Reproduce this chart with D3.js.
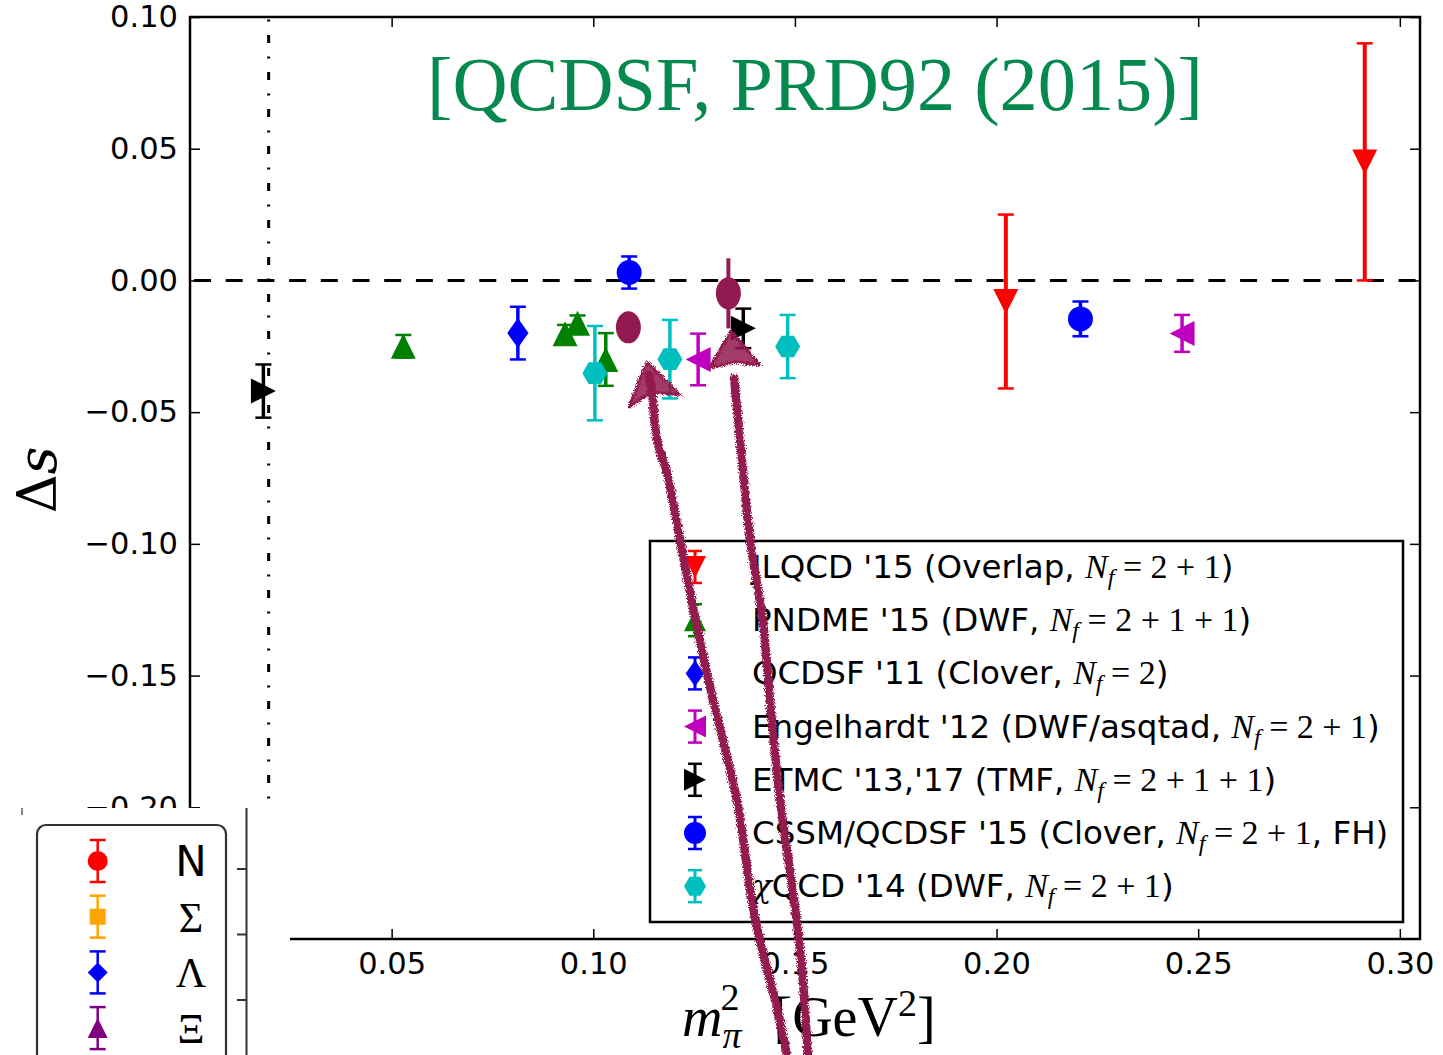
<!DOCTYPE html>
<html>
<head>
<meta charset="utf-8">
<script src="https://d3js.org/d3.v7.min.js"></script>
<style>
  body { margin: 0; background: #fff; }
  svg { display: block; }
</style>
</head>
<body>
<div id="chart"></div>
<script>
// ---- data ----
var xTicks = [0.05, 0.10, 0.15, 0.20, 0.25, 0.30];
var yTicks = [-0.20, -0.15, -0.10, -0.05, 0.00, 0.05, 0.10];

var jlqcd = [{x: 0.2023, y: -0.008, e: 0.033}, {x: 0.2913, y: 0.045, e: 0.045}];
var pndme = [{x: 0.0529, y: -0.025, e: 0.0043}, {x: 0.0930, y: -0.0202, e: 0.0033},
             {x: 0.0961, y: -0.0163, e: 0.003}, {x: 0.1031, y: -0.030, e: 0.010}];
var qcdsf11 = [{x: 0.0813, y: -0.020, e: 0.010}];
var engelhardt = [{x: 0.1260, y: -0.030, e: 0.0098}, {x: 0.2460, y: -0.0201, e: 0.007}];
var etmc = [{x: 0.0182, y: -0.042, e: 0.0101}, {x: 0.1372, y: -0.0182, e: 0.0075}];
var cssm = [{x: 0.1089, y: 0.0030, e: 0.0061}, {x: 0.2208, y: -0.0146, e: 0.0066}];
var chiqcd = [{x: 0.1004, y: -0.0352, e: 0.0179}, {x: 0.1190, y: -0.0299, e: 0.0149},
              {x: 0.1482, y: -0.0251, e: 0.012}];
var qcdsf15 = [{x: 0.1087, y: -0.0178, e: 0}, {x: 0.1335, y: -0.0049, e: 0.0133}];

var physPoint = 0.0195;   // m_pi^2 at the physical point

// hand-drawn arrows (data coordinates)
var arrow1 = [[0.1480, -0.2940], [0.1451, -0.2732], [0.1421, -0.2553], [0.1396, -0.2379],
              [0.1356, -0.1972], [0.1297, -0.1593], [0.1255, -0.1300], [0.1215, -0.0985],
              [0.1183, -0.0731], [0.1158, -0.0606], [0.1146, -0.0435], [0.1138, -0.0360]];
var head1 = [[0.1133, -0.0309], [0.1089, -0.0480], [0.1146, -0.0423], [0.1215, -0.0435]];
var arrow2 = [[0.1532, -0.2940], [0.1517, -0.2606], [0.1500, -0.2379], [0.1463, -0.1972],
              [0.1438, -0.1593], [0.1421, -0.1300], [0.1389, -0.0985], [0.1364, -0.0606],
              [0.1349, -0.0370]];
var head2 = [[0.1341, -0.0192], [0.1289, -0.0332], [0.1351, -0.0310], [0.1413, -0.0321]];

var seriesNames = ["JLQCD '15 (Overlap, ", "PNDME '15 (DWF, ", "QCDSF '11 (Clover, ",
  "Engelhardt '12 (DWF/asqtad, ", "ETMC '13,'17 (TMF, ", "CSSM/QCDSF '15 (Clover, ", "QCD '14 (DWF, "];
var seriesNf = ["2+1", "2+1+1", "2", "2+1", "2+1+1", "2+1", "2+1"];
var seriesTail = [")", ")", ")", ")", ")", ", FH)", ")"];
var seriesColors = ["#ff0000", "#008000", "#0000ff", "#bf00bf", "#000000", "#0000ff", "#00bfbf"];
var seriesShapes = ["v", "^", "d", "<", ">", "o", "h"];
var seriesData = [jlqcd, pndme, qcdsf11, engelhardt, etmc, cssm, chiqcd];

var insetLabels = ["N", "Σ", "Λ", "Ξ"];
var insetColors = ["#ff0000", "#ffa500", "#0000ff", "#800080"];
var insetShapes = ["o", "s", "D", "^"];

// ---- layout ----
var svgWidth = 1443, svgHeight = 1055;
var plot = {left: 190, right: 1420, top: 17, bottom: 939};
var maroon = "#931a50";

var svg = d3.select("#chart").append("svg")
  .attr("width", svgWidth).attr("height", svgHeight);

var defs = svg.append("defs");
var f = defs.append("filter").attr("id", "rough")
  .attr("x", "-20%").attr("y", "-5%").attr("width", "140%").attr("height", "110%");
f.append("feTurbulence").attr("type", "fractalNoise").attr("baseFrequency", 1.1)
  .attr("numOctaves", 2).attr("seed", 3).attr("result", "noise");
f.append("feDisplacementMap").attr("in", "SourceGraphic").attr("in2", "noise")
  .attr("scale", 6).attr("xChannelSelector", "R").attr("yChannelSelector", "G");

var x = d3.scaleLinear().domain([0, 0.305]).range([plot.left, plot.right]);
var y = d3.scaleLinear().domain([-0.25, 0.10]).range([plot.bottom, plot.top]);

// marker paths centred on 0,0
function markerPath(shape, s) {
  var h = s / 2;
  switch (shape) {
    case "v": return "M0," + h + "L" + (-h) + "," + (-h) + "L" + h + "," + (-h) + "Z";
    case "^": return "M0," + (-h) + "L" + (-h) + "," + h + "L" + h + "," + h + "Z";
    case "<": return "M" + (-h) + ",0L" + h + "," + (-h) + "L" + h + "," + h + "Z";
    case ">": return "M" + h + ",0L" + (-h) + "," + (-h) + "L" + (-h) + "," + h + "Z";
    case "d": return "M0," + (-h * 1.2) + "L" + (h * 0.85) + ",0L0," + (h * 1.2) + "L" + (-h * 0.85) + ",0Z";
    case "D": return "M0," + (-h) + "L" + h + ",0L0," + h + "L" + (-h) + ",0Z";
    case "s": return "M" + (-h * 0.8) + "," + (-h * 0.8) + "h" + (s * 0.8) + "v" + (s * 0.8) + "h" + (-s * 0.8) + "Z";
    case "h": {
      var r = h, k = r * Math.sqrt(3) / 2;
      return "M" + (-r) + ",0L" + (-r / 2) + "," + (-k) + "L" + (r / 2) + "," + (-k) +
        "L" + r + ",0L" + (r / 2) + "," + k + "L" + (-r / 2) + "," + k + "Z";
    }
    default: return d3.symbol(d3.symbolCircle, Math.PI * h * h)();
  }
}

function errorBar(g, cx, cy, top, bot, color, cap, lw) {
  g.append("line").attr("x1", cx).attr("x2", cx).attr("y1", top).attr("y2", bot)
    .attr("stroke", color).attr("stroke-width", lw);
  [top, bot].forEach(function(v) {
    g.append("line").attr("x1", cx - cap).attr("x2", cx + cap).attr("y1", v).attr("y2", v)
      .attr("stroke", color).attr("stroke-width", 2.5);
  });
}

// reference lines
svg.append("line")
  .attr("x1", plot.left).attr("x2", plot.right).attr("y1", y(0)).attr("y2", y(0))
  .attr("stroke", "#000").attr("stroke-width", 3).attr("stroke-dasharray", "17,14.7")
  .attr("stroke-dashoffset", -4);
svg.append("line")
  .attr("x1", x(physPoint)).attr("x2", x(physPoint)).attr("y1", plot.top).attr("y2", plot.bottom)
  .attr("stroke", "#000").attr("stroke-width", 3).attr("stroke-dasharray", "8,13.5,2,13.5")
  .attr("stroke-dashoffset", 19);

// axes
var fmt = d3.format(".2f");
var gx = svg.append("g").attr("transform", "translate(0," + plot.bottom + ")")
  .call(d3.axisBottom(x).tickValues(xTicks).tickFormat(fmt).tickSize(-10).tickPadding(13));
var gy = svg.append("g").attr("transform", "translate(" + plot.left + ",0)")
  .call(d3.axisLeft(y).tickValues(yTicks).tickFormat(fmt).tickSize(-10).tickPadding(12));
var gxt = svg.append("g").attr("transform", "translate(0," + plot.top + ")")
  .call(d3.axisTop(x).tickValues(xTicks).tickFormat("").tickSize(-10));
var gyr = svg.append("g").attr("transform", "translate(" + plot.right + ",0)")
  .call(d3.axisRight(y).tickValues(yTicks).tickFormat("").tickSize(-10));
[gx, gy, gxt, gyr].forEach(function(g) {
  g.select(".domain").remove();
  g.selectAll(".tick line").attr("stroke", "#000").attr("stroke-width", 1.5);
  g.selectAll("text").attr("font-family", "DejaVu Sans").attr("font-size", 30.5).attr("fill", "#000");
});

svg.append("rect")
  .attr("x", plot.left).attr("y", plot.top)
  .attr("width", plot.right - plot.left).attr("height", plot.bottom - plot.top)
  .attr("fill", "none").attr("stroke", "#000").attr("stroke-width", 2.5);

// data points
var pts = svg.append("g");
seriesData.forEach(function(data, i) {
  data.forEach(function(d) {
    var g = pts.append("g");
    errorBar(g, x(d.x), y(d.y), y(d.y + d.e), y(d.y - d.e), seriesColors[i], 8, i === 0 ? 4 : 3.5);
    g.append("path").attr("d", markerPath(seriesShapes[i], 25))
      .attr("transform", "translate(" + x(d.x) + "," + y(d.y) + ")")
      .attr("fill", seriesColors[i]);
  });
});
qcdsf15.forEach(function(d) {
  if (d.e > 0) {
    pts.append("line").attr("x1", x(d.x)).attr("x2", x(d.x))
      .attr("y1", y(d.y + d.e)).attr("y2", y(d.y - d.e))
      .attr("stroke", maroon).attr("stroke-width", 4);
  }
  pts.append("ellipse").attr("cx", x(d.x)).attr("cy", y(d.y))
    .attr("rx", 12.5).attr("ry", 16).attr("fill", maroon);
});

// title
svg.append("text")
  .attr("x", 427).attr("y", 110)
  .attr("font-family", "Liberation Serif").attr("font-size", 76)
  .attr("fill", "#05894f").attr("textLength", 776).attr("lengthAdjust", "spacingAndGlyphs")
  .text("[QCDSF, PRD92 (2015)]");

// axis labels
var yl = svg.append("text")
  .attr("transform", "translate(56,480) rotate(-90)")
  .attr("text-anchor", "middle")
  .attr("font-family", "DejaVu Serif").attr("font-size", 54);
yl.append("tspan").text("Δ");
yl.append("tspan").attr("font-style", "italic").text("s");

var xl = svg.append("text")
  .attr("x", 682).attr("y", 1036)
  .attr("font-family", "Liberation Serif").attr("font-size", 56);
xl.append("tspan").attr("font-style", "italic").text("m");
xl.append("tspan").attr("font-style", "italic").attr("font-size", 38).attr("dy", 12).text("π");
xl.append("tspan").attr("font-size", 38).attr("dx", -21).attr("dy", -38).text("2");
xl.append("tspan").attr("dx", 34).attr("dy", 26).text("[GeV");
xl.append("tspan").attr("font-size", 38).attr("dy", -20).text("2");
xl.append("tspan").attr("dy", 20).text("]");

// legend
var leg = svg.append("g");
leg.append("rect").attr("x", 650).attr("y", 541).attr("width", 753).attr("height", 381)
  .attr("fill", "#fff").attr("stroke", "#000").attr("stroke-width", 2.5);
seriesNames.forEach(function(name, i) {
  var cy = 567 + i * 53.2;
  var g = leg.append("g");
  errorBar(g, 695, cy, cy - 16, cy + 16, seriesColors[i], 7, 3);
  g.append("path").attr("d", markerPath(seriesShapes[i], 22))
    .attr("transform", "translate(695," + cy + ")").attr("fill", seriesColors[i]);
  var t = g.append("text").attr("x", 752).attr("y", cy + 11)
    .attr("font-family", "DejaVu Sans").attr("font-size", 32.5).attr("fill", "#000");
  if (i === 6) {
    t.append("tspan").attr("font-family", "DejaVu Serif").attr("font-style", "italic").text("χ");
  }
  t.append("tspan").text(name);
  t.append("tspan").attr("font-family", "Liberation Serif").attr("font-style", "italic")
    .attr("font-size", 34).text("N");
  t.append("tspan").attr("font-family", "Liberation Serif").attr("font-style", "italic")
    .attr("font-size", 24).attr("dy", 7).text("f");
  t.append("tspan").attr("font-family", "Liberation Serif").attr("font-size", 34)
    .attr("dy", -7).text("\u2005=\u2005" + seriesNf[i].split("+").join("\u2005+\u2005"));
  t.append("tspan").text(seriesTail[i]);
});

// pasted inset in lower-left corner
var inset = svg.append("g");
inset.append("rect").attr("x", 0).attr("y", 808).attr("width", 290).attr("height", 247).attr("fill", "#fff");
inset.append("line").attr("x1", 22).attr("x2", 22).attr("y1", 808).attr("y2", 815)
  .attr("stroke", "#888").attr("stroke-width", 2);
inset.append("line").attr("x1", 246.5).attr("x2", 246.5).attr("y1", 808).attr("y2", 1055)
  .attr("stroke", "#333").attr("stroke-width", 2);
[0, 1, 2].forEach(function(i) {
  var ty = 869 + i * 65.5;
  inset.append("line").attr("x1", 237).attr("x2", 246.5).attr("y1", ty).attr("y2", ty)
    .attr("stroke", "#333").attr("stroke-width", 2);
});
inset.append("rect").attr("x", 37).attr("y", 825).attr("width", 189).attr("height", 260)
  .attr("rx", 9).attr("fill", "#fff").attr("stroke", "#333").attr("stroke-width", 2.2);
insetLabels.forEach(function(lab, i) {
  var cy = 861 + i * 55.7;
  var g = inset.append("g");
  errorBar(g, 97.7, cy, cy - 21, cy + 21, insetColors[i], 8, 2.5);
  g.append("path").attr("d", markerPath(insetShapes[i], 20))
    .attr("transform", "translate(97.7," + cy + ")").attr("fill", insetColors[i]);
  g.append("text").attr("x", 191).attr("y", cy + 15).attr("text-anchor", "middle")
    .attr("font-family", i === 0 ? "DejaVu Sans" : "Liberation Serif")
    .attr("font-size", 42).attr("fill", "#000").text(lab);
});

// hand-drawn arrows on top
var line = d3.line().x(function(d) { return x(d[0]); }).y(function(d) { return y(d[1]); })
  .curve(d3.curveCatmullRom);
var arr = svg.append("g").attr("filter", "url(#rough)");
[[arrow1, head1], [arrow2, head2]].forEach(function(a) {
  arr.append("path").attr("d", line(a[0])).attr("fill", "none")
    .attr("stroke", maroon).attr("stroke-width", 8.5).attr("stroke-linecap", "round");
  arr.append("path")
    .attr("d", "M" + a[1].map(function(p) { return x(p[0]) + "," + y(p[1]); }).join("L") + "Z")
    .attr("fill", maroon).attr("fill-opacity", 0.85)
    .attr("stroke", maroon).attr("stroke-width", 3).attr("stroke-linejoin", "round");
});
</script>
</body>
</html>
